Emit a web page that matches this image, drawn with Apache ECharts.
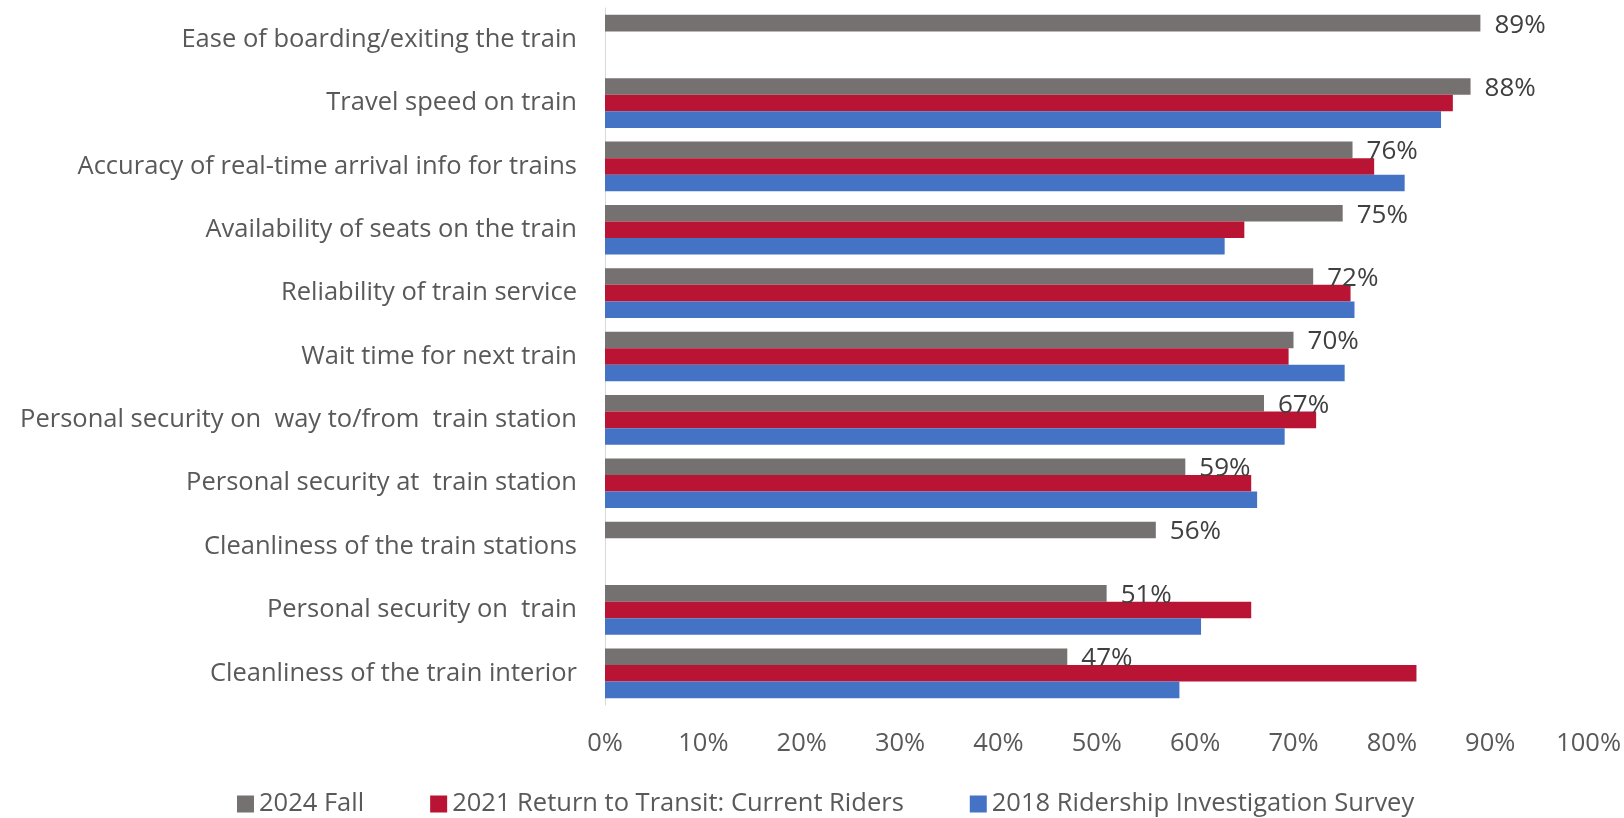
<!DOCTYPE html>
<html>
<head>
<meta charset="utf-8">
<style>
  html, body { margin: 0; padding: 0; background: #ffffff; }
  #chart { width: 1624px; height: 818px; }
</style>
<script src="https://cdn.jsdelivr.net/npm/echarts@6/dist/echarts.min.js"></script>
</head>
<body>
<div id="chart"></div>
<script>
// Rider satisfaction with train service attributes, by survey wave (percent satisfied)
const categories = [
  'Ease of boarding/exiting the train',
  'Travel speed on train',
  'Accuracy of real-time arrival info for trains',
  'Availability of seats on the train',
  'Reliability of train service',
  'Wait time for next train',
  'Personal security on  way to/from  train station',
  'Personal security at  train station',
  'Cleanliness of the train stations',
  'Personal security on  train',
  'Cleanliness of the train interior'
];

const seriesNames = [
  '2024 Fall',
  '2021 Return to Transit: Current Riders',
  '2018 Ridership Investigation Survey'
];

const fall2024 = [89, 88, 76, 75, 72, 70, 67, 59, 56, 51, 47];
const returnToTransit2021 = [null, 86.2, 78.2, 65.0, 75.8, 69.5, 72.3, 65.7, null, 65.7, 82.5];
const ridership2018 = [null, 85.0, 81.3, 63.0, 76.2, 75.2, 69.1, 66.3, null, 60.6, 58.4];

const tickValues = [0, 10, 20, 30, 40, 50, 60, 70, 80, 90, 100];

const colors = ['#767171', '#B91434', '#4472C4'];
const fontFamily = '"Open Sans", "Noto Sans", sans-serif';
const textColor = '#595959';

const chart = echarts.init(document.getElementById('chart'), null, { renderer: 'canvas' });

function barSeries(name, data, color, withLabel) {
  return {
    name: name,
    type: 'bar',
    data: data,
    barGap: '0%',
    barCategoryGap: '21.6%',
    itemStyle: { color: color },
    label: withLabel ? {
      show: true,
      position: 'right',
      distance: 14,
      offset: [0, 2],
      formatter: (p) => p.value + '%',
      fontFamily: fontFamily,
      fontSize: 26,
      color: '#404040'
    } : { show: false },
    emphasis: { disabled: true },
    animation: false
  };
}

chart.setOption({
  animation: false,
  color: colors,
  grid: { left: 605, right: 31, top: 8, bottom: 113, containLabel: false },
  legend: {
    data: seriesNames,
    left: 232,
    top: 786,
    itemWidth: 17,
    itemHeight: 17,
    itemGap: 66,
    icon: 'rect',
    textStyle: { fontFamily: fontFamily, fontSize: 25.5, color: textColor, padding: [0, 0, 0, 0] }
  },
  xAxis: {
    type: 'value',
    min: tickValues[0],
    max: tickValues[tickValues.length - 1],
    interval: tickValues[1] - tickValues[0],
    axisLine: { show: false },
    axisTick: { show: false },
    splitLine: { show: false },
    axisLabel: {
      formatter: '{value}%',
      fontFamily: fontFamily,
      fontSize: 25.5,
      color: textColor,
      margin: 26
    }
  },
  yAxis: {
    type: 'category',
    data: categories,
    inverse: true,
    axisLine: { show: true, lineStyle: { color: '#D9D9D9', width: 1 } },
    axisTick: { show: false },
    axisLabel: {
      fontFamily: fontFamily,
      fontSize: 25.5,
      color: textColor,
      margin: 28
    }
  },
  series: [
    barSeries(seriesNames[0], fall2024, colors[0], true),
    barSeries(seriesNames[1], returnToTransit2021, colors[1], false),
    barSeries(seriesNames[2], ridership2018, colors[2], false)
  ]
});
</script>
</body>
</html>
